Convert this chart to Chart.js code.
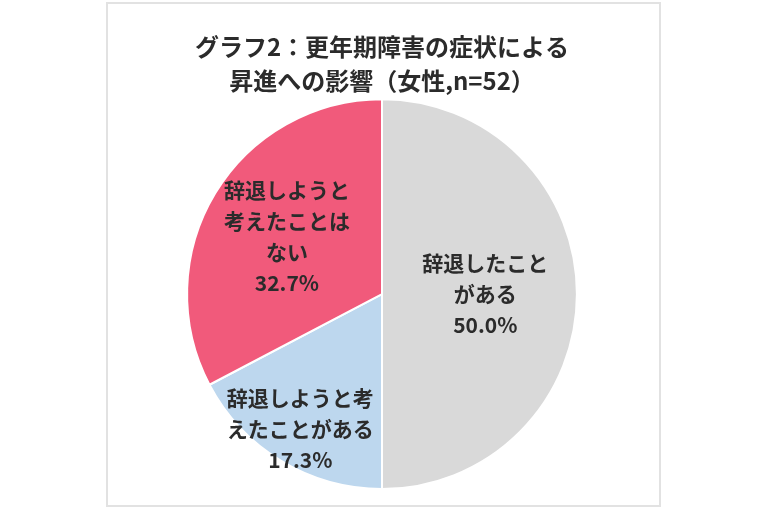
<!DOCTYPE html>
<html>
<head>
<meta charset="utf-8">
<script src="https://cdn.jsdelivr.net/npm/chart.js@4"></script>
<style>
  body { margin: 0; background: #fff; }
  #frame {
    position: absolute;
    left: 106px;
    top: 2px;
    width: 551px;
    height: 501px;
    border: 2px solid #e2e2e2;
  }
</style>
</head>
<body>
<div id="frame"><canvas id="pie"></canvas></div>
<script>
// Data
const categories = [
    ["辞退したこと", "がある"],
    ["辞退しようと考", "えたことがある"],
    ["辞退しようと", "考えたことは", "ない"]
];
const values = [50.0, 17.3, 32.7];
const sliceColors = ["#d9d9d9", "#bdd7ee", "#f15a7b"];
const titleLines = ["グラフ2：更年期障害の症状による", "昇進への影響（女性,n=52）"];

const jpFont = "'Noto Sans CJK JP', 'Noto Sans', sans-serif";

// How far out along each slice's middle the label sits (fraction of radius)
const labelRadius = [0.53, 0.81, 0.57];

// Draw the multi-line labels inside the slices
const sliceLabels = {
    id: 'sliceLabels',
    afterDatasetsDraw(chart) {
        const ctx = chart.ctx;
        const meta = chart.getDatasetMeta(0);
        ctx.save();
        ctx.font = "bold 21px " + jpFont;
        ctx.fillStyle = "#2b2b2b";
        ctx.textAlign = "center";
        ctx.textBaseline = "middle";
        meta.data.forEach(function(arc, i) {
            const mid = (arc.startAngle + arc.endAngle) / 2;
            const r = arc.outerRadius * labelRadius[i];
            const cx = arc.x + Math.cos(mid) * r;
            const cy = arc.y + Math.sin(mid) * r;
            const lines = categories[i].concat([values[i].toFixed(1) + "%"]);
            const lh = 31;
            const top = cy - (lines.length - 1) * lh / 2;
            lines.forEach(function(line, j) {
                ctx.fillText(line, cx, top + j * lh);
            });
        });
        ctx.restore();
    }
};

new Chart(document.getElementById("pie").getContext("2d"), {
    type: "pie",
    data: {
        labels: categories,
        datasets: [{
            data: values,
            backgroundColor: sliceColors,
            borderColor: "#ffffff",
            borderWidth: 2
        }]
    },
    options: {
        responsive: true,
        maintainAspectRatio: false,
        animation: false,
        layout: {
            padding: { top: 0, bottom: 15, left: 0, right: 3 }
        },
        plugins: {
            legend: { display: false },
            tooltip: { enabled: false },
            title: {
                display: true,
                text: titleLines,
                color: "#2b2b2b",
                font: { family: jpFont, size: 24, weight: "bold", lineHeight: 1.4 },
                padding: { top: 26, bottom: 1 }
            }
        }
    },
    plugins: [sliceLabels]
});
</script>
</body>
</html>
